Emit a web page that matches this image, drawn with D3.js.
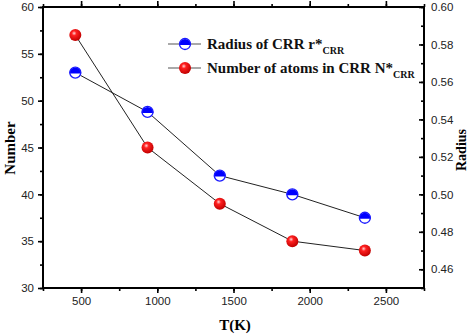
<!DOCTYPE html>
<html>
<head>
<meta charset="utf-8">
<script src="https://cdn.jsdelivr.net/npm/d3@7"></script>
<style>
  body { margin: 0; background: #fff; }
  svg { display: block; }
  .tick text { font-family: "Liberation Sans", Arial, sans-serif; font-size: 11.5px; fill: #222; }
</style>
</head>
<body>
<svg id="chart" width="472" height="336"></svg>
<script>
// data
const temps = [462, 936, 1410, 1886, 2362];
const atomCounts = [57, 45, 39, 35, 34];
const radii = [0.565, 0.544, 0.510, 0.500, 0.4875];
const xTicks = [500, 1000, 1500, 2000, 2500];
const leftTicks = [30, 35, 40, 45, 50, 55, 60];
const rightTicks = [0.46, 0.48, 0.50, 0.52, 0.54, 0.56, 0.58, 0.60];

const svg = d3.select("#chart");
const m = {left: 43, right: 424, top: 7, bottom: 288};

const x = d3.scaleLinear().domain([250, 2750]).range([m.left, m.right]);
const yL = d3.scaleLinear().domain([30, 60]).range([m.bottom, m.top]);
const yR = d3.scaleLinear().domain([0.45, 0.60]).range([m.bottom, m.top]);

const defs = svg.append("defs");
const rg = defs.append("radialGradient").attr("id", "redBall")
  .attr("cx", "40%").attr("cy", "35%").attr("r", "65%");
rg.append("stop").attr("offset", "0%").attr("stop-color", "#ffd6d6");
rg.append("stop").attr("offset", "30%").attr("stop-color", "#ff2020");
rg.append("stop").attr("offset", "100%").attr("stop-color", "#c00000");

// axes: minor ticks first
function minor(axis, vals) {
  return axis.tickValues(vals).tickFormat("").tickSizeOuter(0);
}
const xMinor = d3.range(250, 2751, 250);
const lMinor = d3.range(30, 60.1, 2.5);
const rMinor = d3.range(0.45, 0.6001, 0.01);

svg.append("g").attr("transform", `translate(0,${m.bottom})`)
  .call(minor(d3.axisBottom(x).tickSize(3), xMinor));
svg.append("g").attr("transform", `translate(0,${m.top})`)
  .call(minor(d3.axisBottom(x).tickSize(-3), xMinor));
svg.append("g").attr("transform", `translate(${m.left},0)`)
  .call(minor(d3.axisLeft(yL).tickSize(3), lMinor));
svg.append("g").attr("transform", `translate(${m.right},0)`)
  .call(minor(d3.axisRight(yR).tickSize(-3), rMinor));

svg.append("g").attr("transform", `translate(0,${m.bottom})`)
  .call(d3.axisBottom(x).tickValues(xTicks).tickSize(5).tickSizeOuter(0)
    .tickPadding(4).tickFormat(d3.format("d")));
svg.append("g").attr("transform", `translate(0,${m.top})`)
  .call(d3.axisBottom(x).tickValues(xTicks).tickSize(-6).tickFormat("").tickSizeOuter(0));
svg.append("g").attr("transform", `translate(${m.left},0)`)
  .call(d3.axisLeft(yL).tickValues(leftTicks).tickSize(5).tickSizeOuter(0).tickPadding(4));
svg.append("g").attr("transform", `translate(${m.right},0)`)
  .call(d3.axisRight(yR).tickValues(rightTicks).tickSize(-5).tickSizeOuter(0)
    .tickPadding(7).tickFormat(d3.format(".2f")));

svg.selectAll(".domain").remove();
svg.selectAll(".tick line").attr("stroke", "#000").attr("stroke-width", 1.6);

svg.append("rect")
  .attr("x", m.left).attr("y", m.top)
  .attr("width", m.right - m.left).attr("height", m.bottom - m.top)
  .attr("fill", "none").attr("stroke", "#000").attr("stroke-width", 2);

// lines
const lineN = d3.line().x((d, i) => x(temps[i])).y(d => yL(d));
const lineR = d3.line().x((d, i) => x(temps[i])).y(d => yR(d));
svg.append("path").attr("d", lineR(radii)).attr("fill", "none").attr("stroke", "#222").attr("stroke-width", 1);
svg.append("path").attr("d", lineN(atomCounts)).attr("fill", "none").attr("stroke", "#222").attr("stroke-width", 1);

const R = 6;
function blueMarker(g) {
  g.append("circle").attr("r", R).attr("fill", "#fff");
  g.append("path")
    .attr("d", `M${-R},1 A${R},${R} 0 0 1 ${R},1 Z`)
    .attr("fill", "#0000ff");
  g.append("circle").attr("r", R - 0.5).attr("fill", "none").attr("stroke", "#1a1aff").attr("stroke-width", 1.3);
}
function redMarker(g) {
  g.append("circle").attr("r", R).attr("fill", "url(#redBall)");
}

radii.forEach((d, i) => {
  svg.append("g").attr("transform", `translate(${x(temps[i])},${yR(d)})`).call(blueMarker);
});
atomCounts.forEach((d, i) => {
  svg.append("g").attr("transform", `translate(${x(temps[i])},${yL(d)})`).call(redMarker);
});

// legend
const titleFont = "'Liberation Serif', 'Times New Roman', serif";
const legend = [
  {main: "Radius of CRR r*", sub: "CRR", marker: blueMarker, y: 44},
  {main: "Number of atoms in CRR N*", sub: "CRR", marker: redMarker, y: 68}
];
legend.forEach(l => {
  svg.append("line").attr("x1", 168).attr("x2", 201).attr("y1", l.y).attr("y2", l.y)
    .attr("stroke", "#555").attr("stroke-width", 1.2);
  svg.append("g").attr("transform", `translate(185,${l.y})`).call(l.marker);
  const t = svg.append("text").attr("x", 207).attr("y", l.y + 5)
    .attr("font-family", titleFont)
    .attr("font-weight", "bold").attr("font-size", 15).attr("fill", "#111");
  t.append("tspan").text(l.main);
  t.append("tspan").attr("dy", 5).attr("font-size", 10).text(l.sub);
});

// axis titles
svg.append("text").attr("x", 235).attr("y", 330)
  .attr("text-anchor", "middle").attr("font-family", titleFont)
  .attr("font-weight", "bold").attr("font-size", 15).text("T(K)");
svg.append("text").attr("transform", `translate(15,148) rotate(-90)`)
  .attr("text-anchor", "middle").attr("font-family", titleFont)
  .attr("font-weight", "bold").attr("font-size", 15).text("Number");
svg.append("text").attr("transform", `translate(466,150) rotate(-90)`)
  .attr("text-anchor", "middle").attr("font-family", titleFont)
  .attr("font-weight", "bold").attr("font-size", 14).text("Radius");
</script>
</body>
</html>
